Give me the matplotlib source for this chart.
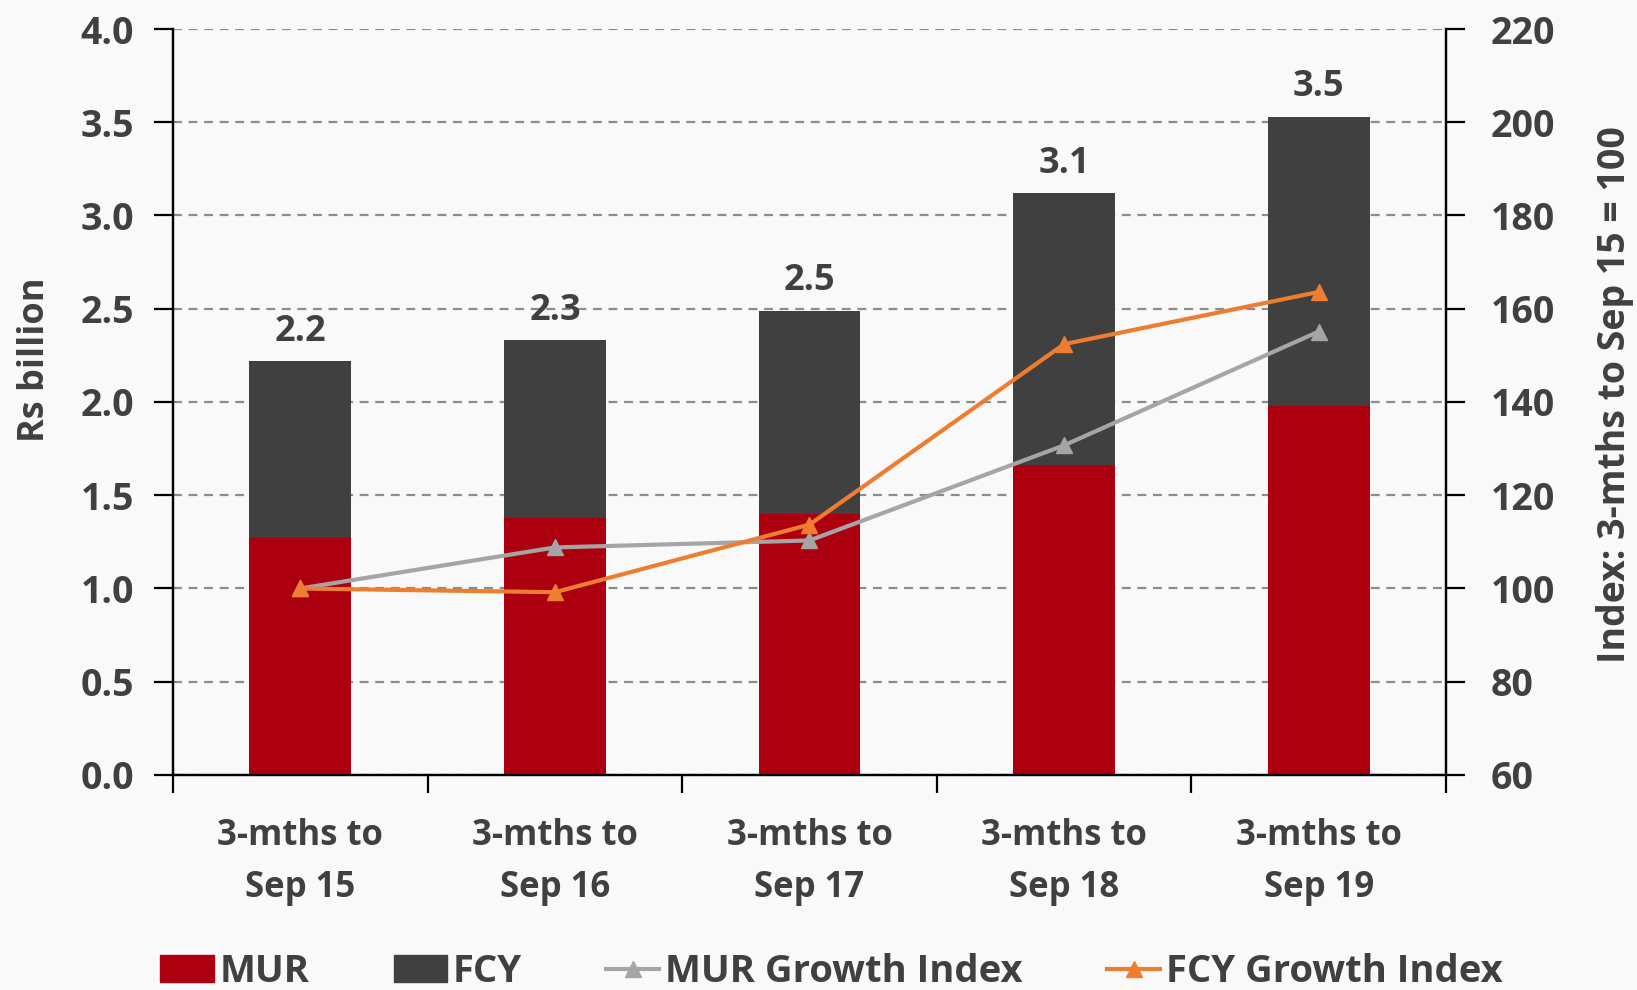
import matplotlib.pyplot as plt
from matplotlib.patches import Patch
from matplotlib.lines import Line2D

plt.rcParams['font.family'] = ['Open Sans', 'DejaVu Sans']
plt.rcParams['font.weight'] = 'bold'
plt.rcParams['axes.labelweight'] = 'bold'

# data
periods = ['3-mths to\nSep 15', '3-mths to\nSep 16', '3-mths to\nSep 17',
           '3-mths to\nSep 18', '3-mths to\nSep 19']
mur = [1.27, 1.38, 1.40, 1.66, 1.98]
fcy = [0.95, 0.95, 1.09, 1.46, 1.55]
totals = ['2.2', '2.3', '2.5', '3.1', '3.5']
mur_index = [100, 108.8, 110.3, 130.7, 155.1]
fcy_index = [100, 99.2, 113.7, 152.4, 163.6]

txt = '#404040'
red = '#AC0010'
dark = '#404040'
grey = '#A5A5A5'
orange = '#ED7D31'

fig = plt.figure(figsize=(16.37, 9.9), dpi=100, facecolor='#f9f9fa')
ax = fig.add_axes([0.1057, 0.2172, 0.7776, 0.7535])
ax.set_facecolor('none')
ax2 = ax.twinx()

x = list(range(len(periods)))
ax.bar(x, mur, width=0.4, color=red, zorder=2)
ax.bar(x, fcy, width=0.4, bottom=mur, color=dark, zorder=2)
for i in x:
    ax.text(i, mur[i] + fcy[i] + 0.06, totals[i], ha='center', va='bottom',
            fontsize=26, color=txt, fontweight='bold')

ax.set_ylim(0, 4)
ax.set_xlim(-0.5, 4.5)
ax.set_yticks([0, 0.5, 1, 1.5, 2, 2.5, 3, 3.5, 4])
ax.set_yticklabels(['%.1f' % v for v in ax.get_yticks()])
ax.yaxis.grid(True, linestyle=(0, (4, 3)), color='#8c8c8c', linewidth=1.6, zorder=0)
ax.set_axisbelow(True)

# category labels centred, ticks at boundaries
ax.set_xticks([i + 0.5 for i in range(-1, 5)])
ax.set_xticklabels([])
ax.set_xticks(x, minor=True)
ax.set_xticklabels(periods, minor=True, fontsize=25, color=txt, linespacing=1.6)
ax.tick_params(axis='x', which='minor', length=0, pad=31)
ax.tick_params(axis='x', which='major', length=13, width=1.6, direction='out')
ax.tick_params(axis='y', length=14, width=1.6, labelsize=27, labelcolor=txt, pad=14)

ax2.plot(x, mur_index, color=grey, linewidth=3, marker='^', markersize=12, zorder=3)
ax2.plot(x, fcy_index, color=orange, linewidth=3, marker='^', markersize=12, zorder=3)
ax2.set_ylim(60, 220)
ax2.set_yticks(range(60, 221, 20))
ax2.tick_params(axis='y', length=14, width=1.6, labelsize=27, labelcolor=txt, pad=18)

for a in (ax, ax2):
    a.spines['top'].set_visible(False)
    for s in ('left', 'right', 'bottom'):
        a.spines[s].set_linewidth(1.6)
        a.spines[s].set_color('black')

ax.set_ylabel('Rs billion', fontsize=26, color=txt)
ax.yaxis.set_label_coords(-0.094, 0.557)
ax2.set_ylabel('Index: 3-mths to Sep 15 = 100', fontsize=27, color=txt)
ax2.yaxis.set_label_coords(1.118, 0.51)

handles = [Patch(color=red), Patch(color=dark),
           Line2D([], [], color=grey, linewidth=3, marker='^', markersize=11),
           Line2D([], [], color=orange, linewidth=3, marker='^', markersize=11)]
labels = ['MUR', 'FCY', 'MUR Growth Index', 'FCY Growth Index']
fig.legend(handles, labels, loc='center', bbox_to_anchor=(0.508, 0.018), ncol=4,
           frameon=False, fontsize=27.5, handlelength=1.4, handletextpad=0.15,
           columnspacing=2.2, labelcolor=txt)

fig.savefig('out.png', dpi=100, facecolor=fig.get_facecolor())
